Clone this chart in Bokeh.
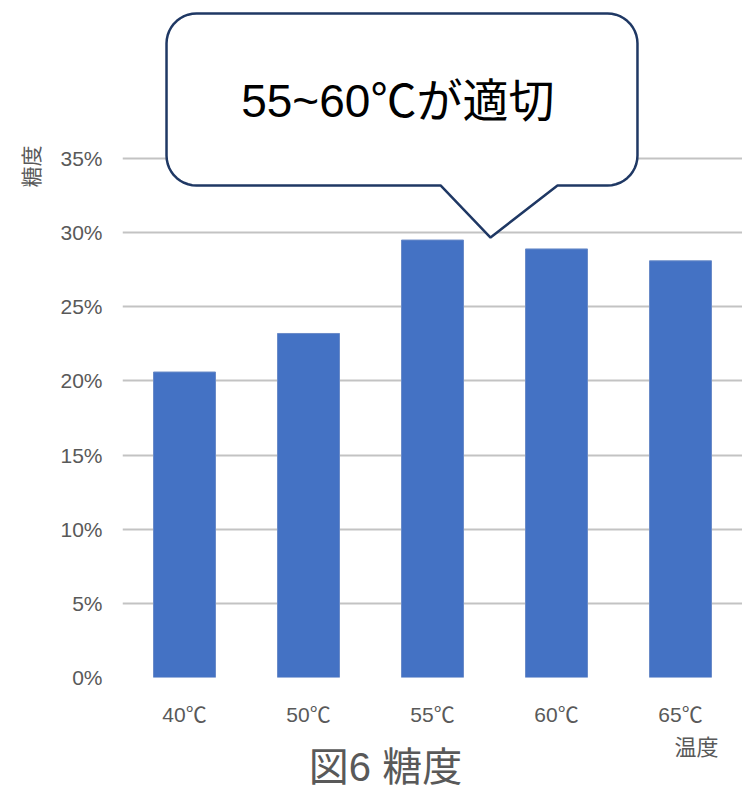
import numpy as np
from bokeh.plotting import figure
from bokeh.layouts import column
from bokeh.models import FactorRange, Range1d, FixedTicker, Label, NumeralTickFormatter, Title
from bokeh.embed import file_html
from bokeh.resources import INLINE

# Sugar content (Brix) by mashing temperature
temps = ["40℃", "50℃", "55℃", "60℃", "65℃"]
sugar = [0.206, 0.232, 0.295, 0.289, 0.281]
y_ticks = [0.0, 0.05, 0.10, 0.15, 0.20, 0.25, 0.30, 0.35]

FONT = "'Liberation Sans', 'Noto Sans CJK JP', sans-serif"
GREY = "#595959"

p = figure(
    width=742, height=730,
    x_range=FactorRange(*temps, range_padding=0),
    y_range=Range1d(0, 0.4552),
    output_backend="svg", toolbar_location=None,
    min_border_left=122, min_border_right=0,
    min_border_top=2, min_border_bottom=53,
)
p.outline_line_color = None
p.background_fill_color = "white"
p.border_fill_color = "white"

p.vbar(x=temps, top=sugar, width=0.5, fill_color="#4472C4", line_color="#6A8BC8", line_width=1)

# axes
p.yaxis.ticker = FixedTicker(ticks=y_ticks)
p.yaxis.formatter = NumeralTickFormatter(format="0%")
for ax in (p.xaxis[0], p.yaxis[0]):
    ax.axis_line_color = None
    ax.major_tick_line_color = None
    ax.minor_tick_line_color = None
    ax.major_label_text_font = FONT
    ax.major_label_text_font_size = "21px"
    ax.major_label_text_color = GREY
p.yaxis.major_label_standoff = 14
p.xaxis.major_label_standoff = 19

p.xgrid.grid_line_color = None
p.ygrid.grid_line_color = "#C3C3C3"
p.ygrid.grid_line_width = 2
p.ygrid.ticker = FixedTicker(ticks=y_ticks)

# vertical axis name, set level with the top gridline
p.add_layout(Title(text="糖度", align="right", offset=143, standoff=30,
                   text_font=FONT, text_font_size="21px", text_color=GREY,
                   text_font_style="normal"), "left")

# speech-bubble callout pointing at the 55-60℃ bars
left, right, top, bottom = 0.355, 4.153, 0.4478, 0.3318
rx, ry = 0.242, 0.0202
base_l, tip_x, base_r, tip_y = 2.565, 2.968, 3.508, 0.2967

def corner(cx, cy, a0, a1, n=12):
    t = np.linspace(a0, a1, n)
    return list(cx + rx * np.cos(t)), list(cy + ry * np.sin(t))

xs, ys = [], []
for cx, cy, a0, a1 in [
    (left + rx, top - ry, np.pi, np.pi / 2),
    (right - rx, top - ry, np.pi / 2, 0),
    (right - rx, bottom + ry, 0, -np.pi / 2),
]:
    cxs, cys = corner(cx, cy, a0, a1)
    xs += cxs
    ys += cys
xs += [base_r, tip_x, base_l]
ys += [bottom, tip_y, bottom]
cxs, cys = corner(left + rx, bottom + ry, -np.pi / 2, -np.pi)
xs += cxs
ys += cys

p.patch(xs, ys, fill_color="white", line_color="#1F3864", line_width=2.5)
p.add_layout(Label(x=2.22, y=0.389, text="55~60℃が適切",
                   text_align="center", text_baseline="middle",
                   text_font=FONT, text_font_size="46px", text_color="black"))

# caption strip: horizontal axis name and figure caption
# (its frame lines up with the chart frame, which starts 122px from the left)
cap = figure(
    width=742, height=57, x_range=Range1d(122, 742), y_range=Range1d(0, 57),
    output_backend="svg", toolbar_location=None,
    min_border=0, min_border_left=122,
)
cap.axis.visible = False
cap.grid.visible = False
cap.outline_line_color = None
cap.border_fill_color = "white"
cap.add_layout(Label(x=696, y=40, text="温度", text_align="center", text_baseline="middle",
                     text_font=FONT, text_font_size="22px", text_color=GREY))
cap.add_layout(Label(x=385, y=21, text="図6 糖度", text_align="center", text_baseline="middle",
                     text_font=FONT, text_font_size="40px", text_color=GREY))

open("out.html", "w").write(file_html(column(p, cap, spacing=0), INLINE))
